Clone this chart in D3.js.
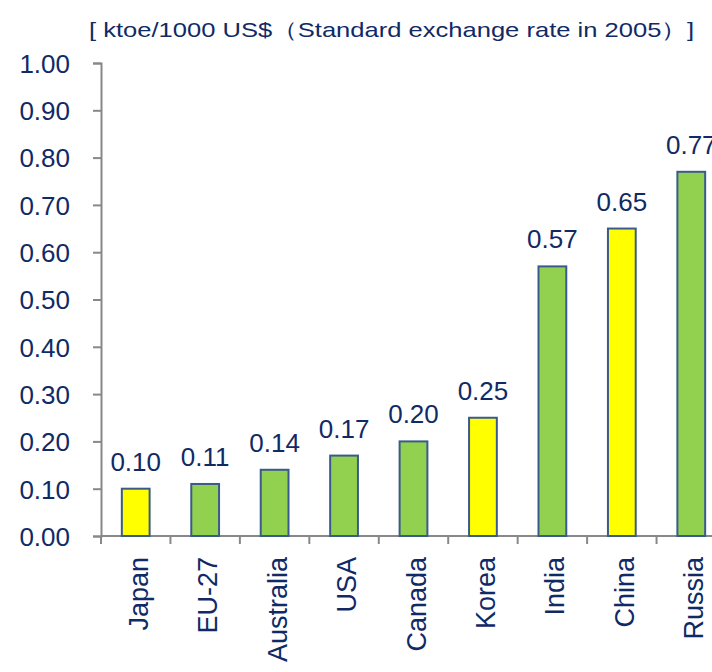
<!DOCTYPE html>
<html>
<head>
<meta charset="utf-8">
<script src="https://cdn.jsdelivr.net/npm/d3@7"></script>
<style>
  body { margin: 0; background: #fff; }
  text { font-family: "Liberation Sans", Arial, sans-serif; fill: #102a66; }
</style>
</head>
<body>
<div id="chart"></div>
<script>
// chart data
var countries = ["Japan", "EU-27", "Australia", "USA", "Canada", "Korea", "India", "China", "Russia"];
var intensity = [0.10, 0.11, 0.14, 0.17, 0.20, 0.25, 0.57, 0.65, 0.77];
var highlighted = ["Japan", "Korea", "China"];
var yTicks = [0, 0.1, 0.2, 0.3, 0.4, 0.5, 0.6, 0.7, 0.8, 0.9, 1.0];
var unitLabel = "[ ktoe/1000 US$（Standard exchange rate in 2005）]";

var width = 712, height = 672;

var svg = d3.select("#chart").append("svg")
    .attr("width", width)
    .attr("height", height);

// scales
var x = d3.scaleBand()
    .domain(countries)
    .range([101, 726])
    .paddingInner(0.6)
    .paddingOuter(0.3);

var y = d3.scaleLinear()
    .domain([0, 1])
    .range([536, 63]);

// unit title (stretched to the width it has in the original)
svg.append("text")
    .attr("x", 89)
    .attr("y", 37)
    .attr("font-size", 21)
    .attr("textLength", 605)
    .attr("lengthAdjust", "spacingAndGlyphs")
    .text(unitLabel);

// y axis
var yAxis = svg.append("g")
    .attr("transform", "translate(101,0)")
    .call(d3.axisLeft(y).tickValues(yTicks).tickFormat(d3.format(".2f")).tickSize(8).tickPadding(23));
yAxis.selectAll("text")
    .attr("font-size", 26)
    .attr("dy", "0.36em")
    .attr("fill", "#102a66")
    .attr("font-family", "Liberation Sans, Arial, sans-serif");

// x axis: baseline plus separator ticks between categories
var xAxis = svg.append("g")
    .attr("transform", "translate(0,536)");
xAxis.append("line")
    .attr("x1", 101).attr("x2", width)
    .attr("y1", 0).attr("y2", 0);
xAxis.selectAll(".sep")
    .data(d3.range(countries.length + 1))
    .enter().append("line")
    .attr("class", "sep")
    .attr("x1", function(i) { return 101 + i * x.step(); })
    .attr("x2", function(i) { return 101 + i * x.step(); })
    .attr("y1", 0).attr("y2", 8);
xAxis.selectAll("line").attr("stroke", "#888").attr("stroke-width", 2);

yAxis.select(".domain").attr("stroke", "#888").attr("stroke-width", 2);
yAxis.selectAll(".tick line").attr("stroke", "#888").attr("stroke-width", 2);

// category labels, rotated
svg.selectAll(".cat")
    .data(countries)
    .enter().append("text")
    .attr("class", "cat")
    .attr("font-size", 27)
    .attr("text-anchor", "end")
    .attr("transform", function(d) {
        return "translate(" + (x(d) + x.bandwidth() / 2 + 12) + ",557) rotate(-90)";
    })
    .text(function(d) { return d; });

// bars
svg.selectAll(".bar")
    .data(countries)
    .enter().append("rect")
    .attr("class", "bar")
    .attr("x", function(d) { return x(d); })
    .attr("width", x.bandwidth())
    .attr("y", function(d, i) { return y(intensity[i]); })
    .attr("height", function(d, i) { return y(0) - y(intensity[i]); })
    .attr("fill", function(d) { return highlighted.indexOf(d) >= 0 ? "#ffff00" : "#92d050"; })
    .attr("stroke", "#3a5a8c")
    .attr("stroke-width", 2);

// value labels
svg.selectAll(".val")
    .data(countries)
    .enter().append("text")
    .attr("class", "val")
    .attr("font-size", 26)
    .attr("text-anchor", "middle")
    .attr("x", function(d) { return x(d) + x.bandwidth() / 2; })
    .attr("y", function(d, i) { return y(intensity[i]) - 18; })
    .text(function(d, i) { return intensity[i].toFixed(2); });
</script>
</body>
</html>
